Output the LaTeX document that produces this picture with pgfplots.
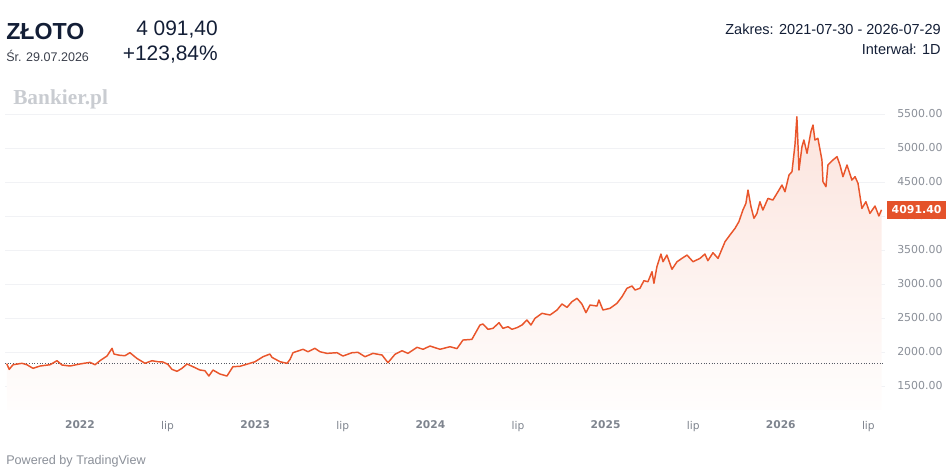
\documentclass[border=0pt]{standalone}
\usepackage{fontspec}
\setmainfont{Liberation Sans}
\newfontfamily\dvs{DejaVu Sans}
\newfontfamily\lserif{Liberation Serif}
\usepackage{pgfplots}
\usepackage{pgfplotstable}
\pgfplotsset{compat=1.18}
\definecolor{lineor}{HTML}{E9552B}
\definecolor{boxor}{HTML}{E4522A}
\definecolor{navy}{HTML}{131E36}
\definecolor{subgray}{HTML}{3A3F4B}
\definecolor{tickgray}{HTML}{8A8F98}
\definecolor{yeargray}{HTML}{7E848E}
\definecolor{gridc}{HTML}{F1F2F5}
\definecolor{wmgray}{HTML}{C9CCD1}
\definecolor{dotc}{HTML}{555A64}

\pgfplotstableread{
x y
2021.582 1828
2021.596 1745
2021.618 1813
2021.669 1834
2021.697 1813
2021.732 1760
2021.772 1794
2021.829 1813
2021.869 1872
2021.897 1809
2021.943 1794
2022.000 1824
2022.057 1848
2022.086 1813
2022.114 1872
2022.154 1941
2022.183 2054
2022.194 1970
2022.228 1951
2022.257 1946
2022.285 1990
2022.325 1906
2022.371 1834
2022.411 1872
2022.445 1857
2022.474 1853
2022.502 1818
2022.525 1745
2022.554 1716
2022.582 1760
2022.611 1824
2022.645 1784
2022.685 1735
2022.713 1725
2022.736 1647
2022.759 1735
2022.799 1676
2022.839 1647
2022.873 1784
2022.913 1790
2022.970 1834
2022.999 1857
2023.045 1931
2023.084 1970
2023.096 1921
2023.142 1857
2023.182 1834
2023.199 1892
2023.216 1990
2023.273 2040
2023.301 2004
2023.341 2054
2023.370 2004
2023.410 1980
2023.467 1990
2023.501 1941
2023.553 1990
2023.587 1995
2023.627 1931
2023.672 1980
2023.724 1956
2023.758 1843
2023.798 1966
2023.838 2019
2023.872 1980
2023.924 2069
2023.958 2040
2023.998 2088
2024.055 2040
2024.112 2078
2024.152 2050
2024.186 2176
2024.237 2186
2024.283 2397
2024.300 2412
2024.329 2334
2024.357 2348
2024.392 2431
2024.414 2348
2024.443 2372
2024.466 2334
2024.494 2358
2024.523 2397
2024.551 2471
2024.574 2397
2024.597 2495
2024.637 2569
2024.683 2544
2024.723 2618
2024.751 2706
2024.780 2657
2024.808 2740
2024.837 2790
2024.865 2706
2024.888 2579
2024.911 2691
2024.951 2676
2024.962 2765
2024.985 2618
2025.025 2642
2025.065 2716
2025.094 2814
2025.122 2937
2025.151 2971
2025.168 2912
2025.196 2937
2025.219 3049
2025.242 3034
2025.265 3181
2025.276 3010
2025.293 3254
2025.316 3441
2025.328 3328
2025.350 3426
2025.379 3216
2025.408 3328
2025.436 3377
2025.465 3426
2025.499 3328
2025.539 3377
2025.567 3441
2025.584 3343
2025.613 3460
2025.642 3377
2025.682 3623
2025.710 3721
2025.739 3819
2025.761 3917
2025.784 4088
2025.801 4186
2025.813 4382
2025.830 4137
2025.847 3966
2025.864 4039
2025.881 4210
2025.898 4088
2025.927 4259
2025.955 4235
2025.984 4357
2026.007 4456
2026.024 4357
2026.047 4603
2026.064 4652
2026.081 5044
2026.092 5460
2026.104 4676
2026.121 5019
2026.132 5118
2026.150 4922
2026.172 5240
2026.184 5338
2026.195 5118
2026.212 5142
2026.235 4824
2026.241 4505
2026.258 4431
2026.269 4750
2026.298 4824
2026.321 4873
2026.338 4750
2026.355 4578
2026.378 4750
2026.406 4529
2026.424 4578
2026.441 4480
2026.463 4112
2026.486 4210
2026.509 4039
2026.538 4147
2026.560 4000
2026.575 4091.4
}\gold

\begin{document}
\begin{tikzpicture}
\path[use as bounding box] (0,0) rectangle (711pt,-351.75pt);
% header
\node[anchor=base west, inner sep=0pt, text=navy] at (4.5pt,-29.5pt)
  {\fontsize{17.4}{20}\selectfont\bfseries ZŁOTO};
\node[anchor=base west, inner sep=0pt, text=subgray] at (4.5pt,-46.1pt)
  {\fontsize{9.4}{11}\selectfont Śr. 29.07.2026};
\node[anchor=base east, inner sep=0pt, text=navy] at (163.5pt,-26.25pt)
  {\fontsize{15.7}{18}\selectfont 4 091,40};
\node[anchor=base east, inner sep=0pt, text=navy] at (163.5pt,-45pt)
  {\fontsize{15.7}{18}\selectfont +123,84\%};
\node[anchor=base east, inner sep=0pt, text=navy] at (705.75pt,-25.9pt)
  {\fontsize{10.9}{13}\selectfont Zakres: 2021-07-30 - 2026-07-29};
\node[anchor=base east, inner sep=0pt, text=navy] at (705.75pt,-40.5pt)
  {\fontsize{10.9}{13}\selectfont Interwał: 1D};
\node[anchor=base west, inner sep=0pt, text=wmgray] at (9.75pt,-78pt)
  {\lserif\fontsize{16}{18}\selectfont\bfseries Bankier.pl};
\node[anchor=base west, inner sep=0pt, text=tickgray] at (4.5pt,-348pt)
  {\fontsize{9.45}{11}\selectfont Powered by TradingView};

\begin{axis}[
  at={(3.75pt,-307.5pt)}, anchor=south west,
  scale only axis, width=660pt, height=232.5pt,
  xmin=2021.572, xmax=2026.595, ymin=1147, ymax=5706,
  axis line style={draw=none},
  major tick length=0pt,
  ytick={1500,2000,2500,3000,3500,4000,4500,5000,5500},
  yticklabels={1500.00,2000.00,2500.00,3000.00,3500.00,4000.00,4500.00,5000.00,5500.00},
  yticklabel pos=right,
  yticklabel style={font=\dvs\fontsize{8.2}{10}\selectfont, text=tickgray, anchor=west, inner sep=0pt, xshift=9pt},
  xtick={2022,2022.5,2023,2023.5,2024,2024.5,2025,2025.5,2026,2026.5},
  xticklabels={\textbf{2022},lip,\textbf{2023},lip,\textbf{2024},lip,\textbf{2025},lip,\textbf{2026},lip},
  xticklabel style={font=\dvs\fontsize{8}{10}\selectfont, text=yeargray, anchor=north, inner sep=0pt, yshift=-8pt},
  ymajorgrids, grid style={color=gridc, line width=0.6pt},
]
\addplot[draw=none, top color=lineor!16!white, bottom color=lineor!1!white] table[x=x,y=y] {\gold} \closedcycle;
\addplot[color=dotc, line width=0.8pt, dash pattern=on 0.75pt off 1.25pt] coordinates {(2021.572,1827.8) (2026.595,1827.8)};
\addplot[color=lineor, line width=1.1pt, line join=round] table[x=x,y=y] {\gold};
\coordinate (lastpt) at (axis cs:2026.595,4091.4);
\end{axis}
\node[anchor=west, fill=boxor, text=white, inner sep=0pt, minimum height=13.5pt, minimum width=44pt, xshift=1.5pt]
  at (lastpt) {\dvs\bfseries\fontsize{8.2}{10}\selectfont 4091.40};
\end{tikzpicture}
\end{document}
